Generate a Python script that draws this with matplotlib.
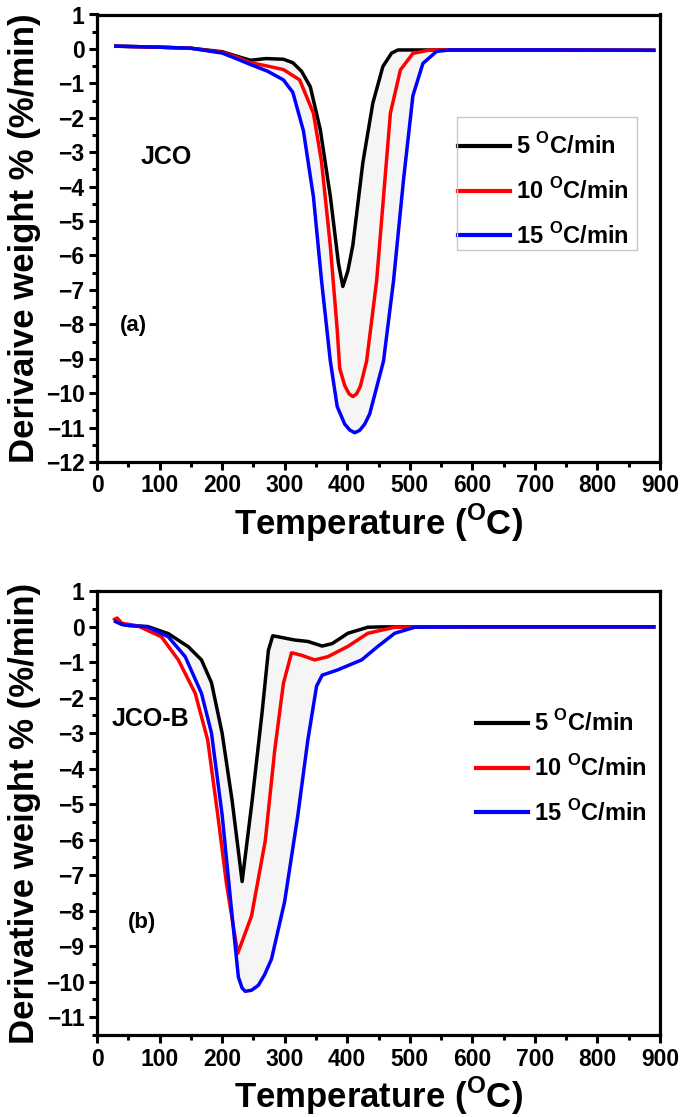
import matplotlib
matplotlib.use("Agg")
import matplotlib.pyplot as plt
from matplotlib.patches import Rectangle
import numpy as np

plt.rcParams['font.family'] = ['Liberation Sans', 'DejaVu Sans']
plt.rcParams['font.weight'] = 'bold'
plt.rcParams['mathtext.fontset'] = 'custom'
plt.rcParams['mathtext.rm'] = 'Liberation Sans:bold'
plt.rcParams['mathtext.bf'] = 'Liberation Sans:bold'

# ---- panel (a) JCO ----
a_t5 = [30, 100, 150, 200, 225, 245, 270, 298, 313, 327, 341, 357, 373, 386, 393,
        401, 409, 425, 441, 457, 471, 481, 550, 700, 890]
a_v5 = [0.08, 0.05, 0.02, -0.08, -0.22, -0.33, -0.28, -0.3, -0.4, -0.65, -1.1, -2.35, -4.28, -6.23, -6.9,
        -6.45, -5.7, -3.3, -1.57, -0.51, -0.12, -0.03, -0.03, -0.03, -0.04]

a_t10 = [30, 100, 150, 200, 225, 245, 273, 298, 324, 346, 359, 373, 384, 388, 396,
         403, 409, 415, 421, 431, 447, 458, 469, 485, 505, 532, 700, 890]
a_v10 = [0.08, 0.05, 0.02, -0.1, -0.25, -0.4, -0.5, -0.6, -0.9, -1.87, -3.29, -5.73, -8.16, -9.28, -9.78,
         -10.02, -10.1, -10.02, -9.8, -9.07, -6.74, -4.3, -1.87, -0.61, -0.13, -0.03, -0.03, -0.04]

a_t15 = [30, 100, 150, 200, 225, 245, 273, 298, 313, 330, 346, 359, 373, 384, 396,
         404, 412, 420, 428, 436, 458, 474, 490, 505, 521, 543, 565, 700, 890]
a_v15 = [0.08, 0.05, 0.02, -0.12, -0.3, -0.45, -0.65, -0.9, -1.26, -2.38, -4.3, -6.74, -9.07, -10.39, -10.9,
         -11.07, -11.15, -11.08, -10.9, -10.6, -9.07, -6.74, -3.8, -1.36, -0.42, -0.07, -0.03, -0.03, -0.04]

# ---- panel (b) JCO-B ----
b_t5 = [30, 40, 50, 81, 114, 146, 167, 183, 200, 216, 232, 248, 264, 274, 281,
        316, 337, 360, 376, 401, 433, 456, 600, 890]
b_v5 = [0.14, 0.06, 0.03, 0.0, -0.2, -0.57, -0.94, -1.58, -3.0, -4.9, -7.18, -4.9, -2.4, -0.67, -0.26,
        -0.38, -0.42, -0.55, -0.48, -0.19, -0.02, -0.01, -0.01, -0.01]

b_t10 = [28, 32, 40, 65, 103, 130, 157, 177, 193, 207, 218, 225, 247, 269, 284,
         298, 311, 327, 348, 369, 401, 433, 476, 600, 890]
b_v10 = [0.2, 0.24, 0.09, 0.02, -0.29, -0.94, -1.88, -3.2, -5.3, -7.24, -8.45, -9.2, -8.15, -6.03, -3.5,
         -1.6, -0.74, -0.81, -0.94, -0.85, -0.56, -0.19, -0.02, -0.01, -0.01]

b_t15 = [30, 40, 50, 81, 114, 141, 167, 183, 200, 216, 226, 232, 237, 247, 258, 268, 279, 300,
         321, 337, 351, 360, 385, 423, 449, 476, 508, 600, 890]
b_v15 = [0.14, 0.06, 0.03, -0.01, -0.29, -0.85, -1.88, -3.0, -5.3, -8.15, -9.87, -10.18, -10.27, -10.24, -10.1, -9.8, -9.36, -7.74,
         -5.32, -3.2, -1.68, -1.37, -1.22, -0.94, -0.56, -0.19, -0.02, -0.01, -0.01]

rates = ['5', '10', '15']
colors = ['black', 'red', 'blue']

fig = plt.figure(figsize=(6.85, 11.17), dpi=100)
W, H = 685.0, 1117.0
ax1 = fig.add_axes([97 / W, 1 - 462 / H, 563 / W, 447.5 / H])
ax2 = fig.add_axes([97 / W, 1 - 1035 / H, 563 / W, 444 / H])


def draw(ax, ts, vs, ylo, ylab, name, name_xy, tag, tag_xy, leg_xy):
    # light fill between the slowest and fastest curves
    px = list(ts[0]) + list(ts[2])[::-1]
    py = list(vs[0]) + list(vs[2])[::-1]
    ax.fill(px, py, color='#f5f5f5', lw=0, zorder=1)
    for t, v, r, c in zip(ts, vs, rates, colors):
        ax.plot(t, v, color=c, lw=2.5, label=r + r' $^{\mathrm{O}}$C/min', zorder=3)
    ax.set_xlim(0, 900)
    ax.set_ylim(ylo, 1)
    ax.set_xticks(np.arange(0, 901, 100))
    ax.set_xticks(np.arange(50, 901, 100), minor=True)
    ax.set_yticks(np.arange(-12 if ylo <= -12 else -11, 2, 1))
    ax.set_yticks(np.arange(ylo, 1.01, 0.5), minor=True)
    ax.tick_params(which='major', direction='out', length=6, width=2.2, labelsize=16.5, pad=3)
    ax.tick_params(which='minor', direction='out', length=3.5, width=2.2)
    for s in ax.spines.values():
        s.set_linewidth(2.3)
    for lab in ax.get_xticklabels() + ax.get_yticklabels():
        lab.set_fontweight('bold')
    ax.set_xlabel(r'Temperature ($^{\mathrm{O}}$C)', fontsize=25, fontweight='bold', labelpad=3)
    ax.set_ylabel(ylab, fontsize=25, fontweight='bold', labelpad=3)
    ax.text(name_xy[0], name_xy[1], name, fontsize=18, fontweight='bold', ha='left', va='center')
    ax.text(tag_xy[0], tag_xy[1], tag, fontsize=16, fontweight='bold', ha='left', va='center')
    leg = ax.legend(loc='center left', bbox_to_anchor=(leg_xy[0] / W, 1 - leg_xy[1] / H),
                    bbox_transform=fig.transFigure, frameon=False, fontsize=17,
                    handlelength=2.2, labelspacing=0.8, borderpad=0, borderaxespad=0,
                    handletextpad=0.25)
    for line in leg.get_lines():
        line.set_linewidth(3)
    for txt in leg.get_texts():
        txt.set_fontweight('bold')


draw(ax1, [a_t5, a_t10, a_t15], [a_v5, a_v10, a_v15], -12,
     'Derivaive weight % (%/min)', 'JCO', (69, -3.13), '(a)', (37, -8.03), (458, 191))
draw(ax2, [b_t5, b_t10, b_t15], [b_v5, b_v10, b_v15], -11.5,
     'Derivative weight % (%/min)', 'JCO-B', (24, -2.6), '(b)', (50, -8.34), (476, 768))

# legend box of panel (a)
fig.patches.append(Rectangle((457 / W, 1 - 250 / H), 180 / W, 133 / H, transform=fig.transFigure,
                             fill=False, edgecolor='#c8c8c8', lw=1))

fig.savefig('out.png', dpi=100)
